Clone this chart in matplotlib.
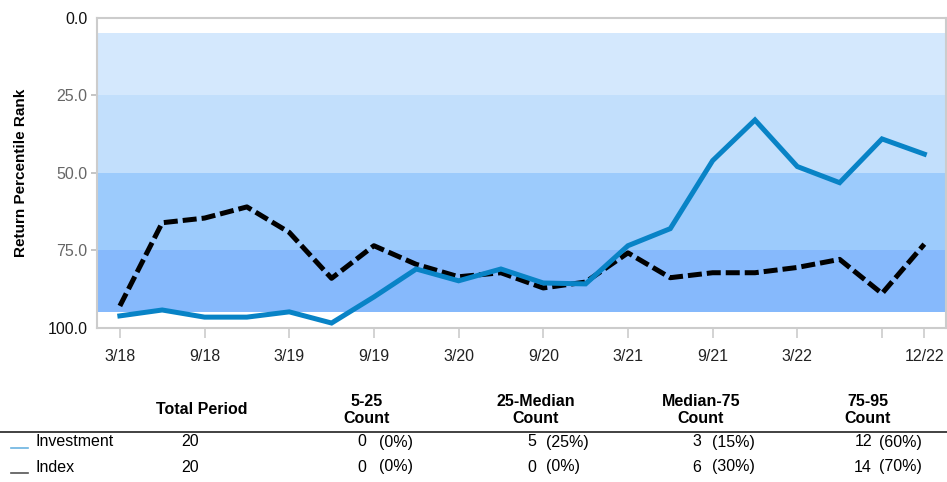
import matplotlib
matplotlib.use("Agg")
import matplotlib.pyplot as plt
from matplotlib.lines import Line2D
import numpy as np

plt.rcParams["font.family"] = ["Liberation Sans", "DejaVu Sans"]

# quarterly percentile ranks, 3/18 .. 12/22
quarters = ["3/18", "6/18", "9/18", "12/18", "3/19", "6/19", "9/19", "12/19",
            "3/20", "6/20", "9/20", "12/20", "3/21", "6/21", "9/21", "12/21",
            "3/22", "6/22", "9/22", "12/22"]
tick_labels = ["3/18", "", "9/18", "", "3/19", "", "9/19", "", "3/20", "", "9/20", "",
               "3/21", "", "9/21", "", "3/22", "", "", "12/22"]
tick_shown = [0, 2, 4, 6, 8, 10, 12, 14, 16, 18, 19]

investment = [96.1, 94.2, 96.5, 96.5, 94.8, 98.4, 90.0, 81.0, 84.8, 81.0,
              85.5, 85.8, 73.5, 68.0, 46.1, 33.0, 48.0, 53.2, 39.1, 44.0]
index_rank = [92.9, 66.1, 64.6, 61.0, 69.2, 84.0, 73.5, 79.5, 83.5, 82.2,
              87.1, 85.2, 75.8, 83.8, 82.2, 82.2, 80.5, 77.9, 88.9, 73.0]

bands = [(5, 25), (25, 50), (50, 75), (75, 95)]
band_colors = ["#D4E8FD", "#C2DFFC", "#9CCBFC", "#86B9FC"]

# summary table
col_headers = ["5-25\nCount", "25-Median\nCount", "Median-75\nCount", "75-95\nCount"]
row_names = ["Investment", "Index"]
totals = [20, 20]
inv_counts = [0, 5, 3, 12]
idx_counts = [0, 0, 6, 14]

W, H = 947, 482
fig = plt.figure(figsize=(W / 100, H / 100), dpi=100)

def fx(x):
    return x / W

def fy(y):
    return 1 - y / H

ax = fig.add_axes([fx(97), fy(328), fx(945.5) - fx(97), fy(17.5) - fy(328)])
for (lo, hi), c in zip(bands, band_colors):
    ax.axhspan(lo, hi, color=c, lw=0, zorder=0)

x = np.arange(len(quarters))
ax.plot(x, investment, color="#0883C6", lw=3.6, solid_joinstyle="miter", zorder=3)
ax.plot(x, index_rank, color="black", lw=3.6, dashes=(2.8, 1.0),
        dash_capstyle="butt", zorder=2)

ax.set_xlim(-0.54, 19.5)
ax.set_ylim(100, 0)
ax.set_xticks([x[i] for i in tick_shown])
ax.set_xticklabels([tick_labels[i] for i in tick_shown])
ax.set_yticks([0, 25, 50, 75, 100])
ax.set_yticklabels(["0.0", "25.0", "50.0", "75.0", "100.0"])
ax.tick_params(axis="x", length=7, width=1.2, color="#CCCCCC", pad=8,
               labelsize=11.5, labelcolor="#222222")
ax.tick_params(axis="y", length=4, width=1.2, color="#BBBBBB", pad=3,
               labelsize=11.5, labelcolor="#666666")
for i in (0, 4):
    t = ax.yaxis.get_major_ticks()[i]
    t.tick1line.set_visible(False)
    t.label1.set_color("#111111")
for s in ax.spines.values():
    s.set_color("#CCCCCC")
    s.set_linewidth(1.5)
ax.set_ylabel("Return Percentile Rank", fontsize=11, fontweight="bold", labelpad=14)

# table header
fig.text(fx(202), fy(410), "Total Period", ha="center", va="center",
         fontsize=11.5, fontweight="bold")
col_x = [367, 536, 701, 868]
for cx, h in zip(col_x, col_headers):
    fig.text(fx(cx), fy(410), h, ha="center", va="center", fontsize=11.5,
             fontweight="bold", linespacing=1.1)
fig.add_artist(Line2D([0, 1], [fy(432), fy(432)], color="#333333", lw=1.3))

# table rows
row_y = [442, 467]
marker_colors = ["#6BB3E0", "#555555"]
num_x = [366, 536, 701, 872]
pct_x = [379, 546, 712, 879]
for ry, name, tot, counts, mc in zip(row_y, row_names, totals,
                                     [inv_counts, idx_counts], marker_colors):
    fig.add_artist(Line2D([fx(11), fx(28)], [fy(ry + 6), fy(ry + 6)], color=mc, lw=1.2))
    fig.text(fx(35), fy(ry), name, ha="left", va="center", fontsize=11.5)
    fig.text(fx(181), fy(ry), str(tot), ha="left", va="center", fontsize=11.5)
    for nx, px, c in zip(num_x, pct_x, counts):
        fig.text(fx(nx), fy(ry), str(c), ha="right", va="center", fontsize=11.5)
        fig.text(fx(px), fy(ry), "(%d%%)" % round(100 * c / tot), ha="left",
                 va="center", fontsize=11.5)

fig.savefig("out.png", dpi=100)
